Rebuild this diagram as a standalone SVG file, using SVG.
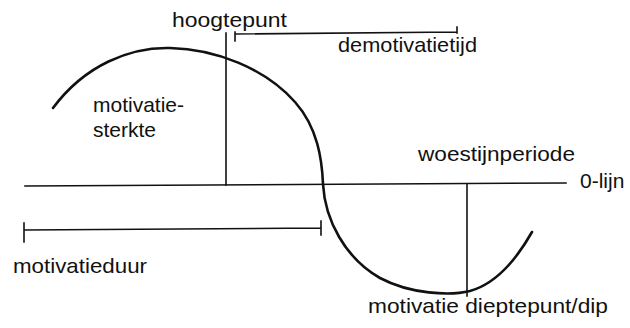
<svg xmlns="http://www.w3.org/2000/svg" width="630" height="328" viewBox="0 0 630 328">
<style>
.ln{stroke:#111;stroke-width:1.6;fill:none;stroke-linecap:square}
.cv{stroke:#111;stroke-width:2.6;fill:none;stroke-linecap:round}
text{font-family:"Liberation Sans",Arial,sans-serif;font-size:21px;fill:#111}
</style>
<rect width="630" height="328" fill="#fff"/>
<g id="connectors">
<path id="axis" class="ln" d="M25,186 L566,183"/>
<path id="curve" class="cv" d="M53,108 C85,65 130,47 170,48 C215,49 265,68 295,102 C318,128 322,160 323,184 C325,220 345,258 380,278 C410,294 450,296 470,291 C495,284 515,262 532,232"/>
<path id="hoog-line" class="ln" d="M226,33 L226,185"/>
<path id="dip-line" class="ln" d="M467,184 L467,296"/>
<path id="demo-bracket" class="ln" d="M235,41 L235,32 M235,34 L457,32 M457,27 L457,33"/>
<path id="duur-bracket" class="ln" d="M24,223 L24,242 M24,230 L321,228 M321,221 L321,235"/>
</g>
<g id="hoogtepunt"><text x="172" y="27" textLength="115" lengthAdjust="spacingAndGlyphs">hoogtepunt</text></g>
<g id="demotivatietijd"><text x="338" y="52" textLength="139" lengthAdjust="spacingAndGlyphs">demotivatietijd</text></g>
<g id="motivatiesterkte"><text x="93" y="112">motivatie-</text><text x="93" y="137">sterkte</text></g>
<g id="woestijnperiode"><text x="418" y="161" textLength="157" lengthAdjust="spacingAndGlyphs">woestijnperiode</text></g>
<g id="nullijn"><text x="580" y="188">0-lijn</text></g>
<g id="motivatieduur"><text x="13" y="273" textLength="134" lengthAdjust="spacingAndGlyphs">motivatieduur</text></g>
<g id="dieptepunt"><text x="368" y="313" textLength="240" lengthAdjust="spacingAndGlyphs">motivatie dieptepunt/dip</text></g>
</svg>
